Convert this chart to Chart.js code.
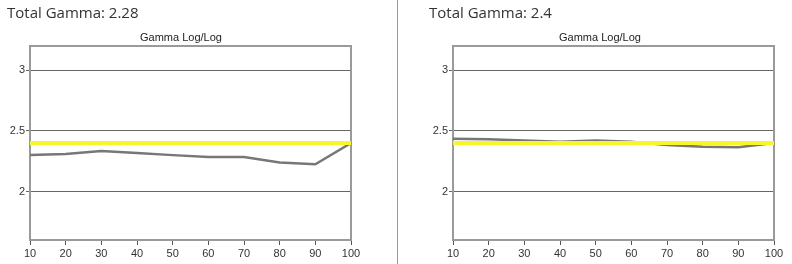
<!DOCTYPE html>
<html>
<head>
<meta charset="utf-8">
<script src="https://cdn.jsdelivr.net/npm/chart.js@4.4.0/dist/chart.umd.min.js"></script>
<style>
  html, body { margin: 0; padding: 0; background: #fff; }
  body { width: 792px; height: 264px; position: relative; overflow: hidden; }
  .painel { position: absolute; top: 0; height: 264px; }
  .total { position: absolute; top: 2px; font: 15px "Open Sans", sans-serif; color: #333; white-space: nowrap; }
  .subtitulo { position: absolute; top: 31px; font: 11px "Liberation Sans", sans-serif; color: #222; white-space: nowrap; transform: translateX(-50%); }
  .separador { position: absolute; left: 397px; top: 0; width: 1px; height: 264px; background: #9a9a9a; }
</style>
</head>
<body>
  <div class="painel" style="left:0;width:396px"><canvas id="graficoEsq"></canvas></div>
  <div class="painel" style="left:398px;width:394px"><canvas id="graficoDir"></canvas></div>
  <div class="separador"></div>
  <div class="total" style="left:7px">Total Gamma: 2.28</div>
  <div class="total" style="left:429px">Total Gamma: 2.4</div>
  <div class="subtitulo" style="left:181px">Gamma Log/Log</div>
  <div class="subtitulo" style="left:600px">Gamma Log/Log</div>

<script>
// --- DADOS ---
const brilho = [10, 20, 30, 40, 50, 60, 70, 80, 90, 100];
const gamaEsq = [2.30, 2.31, 2.335, 2.317, 2.30, 2.285, 2.285, 2.24, 2.225, 2.40];
const gamaDir = [2.435, 2.43, 2.42, 2.41, 2.42, 2.41, 2.383, 2.37, 2.365, 2.40];
const gamaAlvo = [2.4, 2.4, 2.4, 2.4, 2.4, 2.4, 2.4, 2.4, 2.4, 2.4];
const ticksY = [2, 2.5, 3];

// moldura superior e direita da área do gráfico
const moldura = {
    id: 'moldura',
    beforeDatasetsDraw(chart) {
        const a = chart.chartArea;
        const ctx = chart.ctx;
        ctx.save();
        ctx.strokeStyle = '#9a9a9a';
        ctx.lineWidth = 2;
        ctx.beginPath();
        ctx.moveTo(a.left, a.top);
        ctx.lineTo(a.right, a.top);
        ctx.lineTo(a.right, a.bottom);
        ctx.stroke();
        ctx.restore();
    }
};

function criarGrafico(id, serie, padding) {
    const pontos = arr => brilho.map((x, i) => ({ x: x, y: arr[i] }));
    new Chart(document.getElementById(id), {
        type: 'line',
        data: {
            datasets: [{
                data: pontos(gamaAlvo),
                borderColor: '#f6f62a',
                borderWidth: 4,
                pointRadius: 0,
                order: 0
            }, {
                data: pontos(serie),
                borderColor: '#777777',
                borderWidth: 2.5,
                pointRadius: 0,
                order: 1
            }]
        },
        options: {
            responsive: true,
            maintainAspectRatio: false,
            animation: false,
            layout: { padding: padding },
            plugins: { legend: { display: false }, tooltip: { enabled: false } },
            scales: {
                x: {
                    type: 'linear',
                    min: 10,
                    max: 100,
                    afterFit: s => { s.height = 24; },
                    ticks: { stepSize: 10, color: '#333', padding: 2, font: { family: 'Liberation Sans', size: 11 } },
                    grid: { drawOnChartArea: false, tickLength: 5, color: '#555' },
                    border: { color: '#9a9a9a', width: 2 }
                },
                y: {
                    min: 1.6,
                    max: 3.2,
                    afterFit: s => { s.width = 30; },
                    afterBuildTicks: s => { s.ticks = ticksY.map(v => ({ value: v })); },
                    ticks: {
                        color: '#333',
                        padding: 1,
                        font: { family: 'Liberation Sans', size: 11 },
                        callback: v => String(v)
                    },
                    grid: { tickLength: 4, color: '#666' },
                    border: { color: '#9a9a9a', width: 2 }
                }
            }
        },
        plugins: [moldura]
    });
}

criarGrafico('graficoEsq', gamaEsq, { left: 0, right: 45, top: 46, bottom: 0 });
criarGrafico('graficoDir', gamaDir, { left: 25, right: 18, top: 46, bottom: 0 });
</script>
</body>
</html>
